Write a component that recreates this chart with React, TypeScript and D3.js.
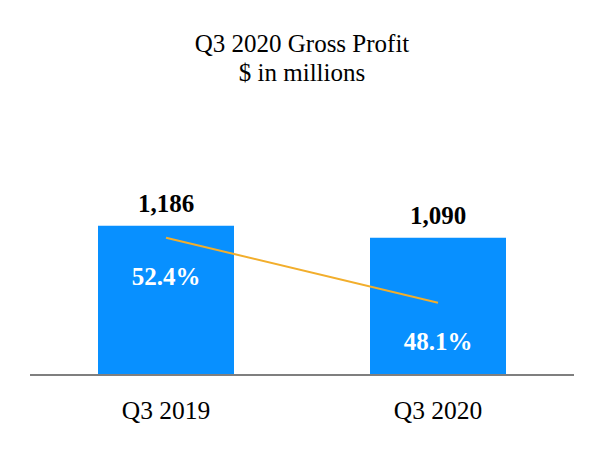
import { useEffect, useRef } from 'react';
import * as d3 from 'd3';

// chart data
const quarters = ['Q3 2019', 'Q3 2020'];
const grossProfit = [1186, 1090];
const grossMargin = [52.4, 48.1];

const WIDTH = 604;
const HEIGHT = 450;
const FONT = '"Liberation Serif", "Times New Roman", serif';

const GrossProfitChart: React.FC = () => {
  const svgRef = useRef<SVGSVGElement | null>(null);

  useEffect(() => {
    if (!svgRef.current) return;

    const svg = d3.select(svgRef.current);
    svg.selectAll('*').remove();

    const x = d3.scaleBand<string>().domain(quarters).range([30, 574]).paddingInner(0.5).paddingOuter(0.25);
    const y = d3.scaleLinear().domain([0, 1200]).range([374, 224]);
    // secondary scale for the margin line
    const yPct = d3.scaleLinear().domain([40, 60]).range([425, 123]);

    // Title
    svg
      .append('text')
      .attr('x', WIDTH / 2)
      .attr('y', 52)
      .attr('text-anchor', 'middle')
      .style('font-family', FONT)
      .style('font-size', '25px')
      .text('Q3 2020 Gross Profit');

    svg
      .append('text')
      .attr('x', WIDTH / 2)
      .attr('y', 81)
      .attr('text-anchor', 'middle')
      .style('font-family', FONT)
      .style('font-size', '25px')
      .text('$ in millions');

    // Bars
    svg
      .selectAll('rect.bar')
      .data(quarters)
      .enter()
      .append('rect')
      .attr('class', 'bar')
      .attr('x', (d) => x(d)!)
      .attr('y', (_, i) => y(grossProfit[i]))
      .attr('width', x.bandwidth())
      .attr('height', (_, i) => y(0) - y(grossProfit[i]))
      .style('fill', '#0890ff');

    // Value labels
    svg
      .selectAll('text.value')
      .data(quarters)
      .enter()
      .append('text')
      .attr('class', 'value')
      .attr('x', (d) => x(d)! + x.bandwidth() / 2)
      .attr('y', (_, i) => y(grossProfit[i]) - 14)
      .attr('text-anchor', 'middle')
      .style('font-family', FONT)
      .style('font-size', '25px')
      .style('font-weight', 'bold')
      .text((_, i) => d3.format(',')(grossProfit[i]));

    // Baseline
    svg
      .append('line')
      .attr('x1', 30)
      .attr('x2', 574)
      .attr('y1', y(0) + 1)
      .attr('y2', y(0) + 1)
      .style('stroke', '#7f7f7f')
      .style('stroke-width', 2);

    // Margin line
    const line = d3
      .line<number>()
      .x((_, i) => x(quarters[i])! + x.bandwidth() / 2)
      .y((d) => yPct(d));

    svg
      .append('path')
      .datum(grossMargin)
      .attr('d', line)
      .style('fill', 'none')
      .style('stroke', '#f2ae2c')
      .style('stroke-width', 2);

    // Margin labels
    svg
      .selectAll('text.pct')
      .data(grossMargin)
      .enter()
      .append('text')
      .attr('class', 'pct')
      .attr('x', (_, i) => x(quarters[i])! + x.bandwidth() / 2)
      .attr('y', (d) => yPct(d) + 47)
      .attr('text-anchor', 'middle')
      .style('font-family', FONT)
      .style('font-size', '25px')
      .style('font-weight', 'bold')
      .style('fill', '#ffffff')
      .text((d) => `${d.toFixed(1)}%`);

    // Category labels
    svg
      .selectAll('text.cat')
      .data(quarters)
      .enter()
      .append('text')
      .attr('class', 'cat')
      .attr('x', (d) => x(d)! + x.bandwidth() / 2)
      .attr('y', 419)
      .attr('text-anchor', 'middle')
      .style('font-family', FONT)
      .style('font-size', '25.5px')
      .text((d) => d);
  }, []);

  return (
    <svg
      ref={svgRef}
      width={WIDTH}
      height={HEIGHT}
      style={{ position: 'absolute', left: 0, top: 0, background: '#ffffff' }}
    />
  );
};

export default function App() {
  return <GrossProfitChart />;
}
